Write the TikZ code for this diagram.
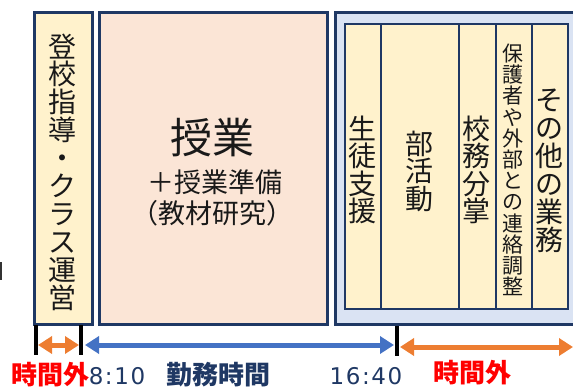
\documentclass[tikz,border=0pt]{standalone}
\usepackage{fontspec}
\setmainfont{Noto Sans CJK JP}
\newfontfamily\jph[RawFeature=+halt]{Noto Sans CJK JP}
\newfontfamily\numfont[LetterSpace=7]{DejaVu Sans}
\usetikzlibrary{arrows.meta}
\definecolor{navy}{HTML}{1F3864}
\definecolor{cream}{HTML}{FFF2CC}
\definecolor{peach}{HTML}{FBE5D6}
\definecolor{paleblue}{HTML}{DAE3F3}
\definecolor{arrblue}{HTML}{4472C4}
\definecolor{arrorange}{HTML}{ED7D31}
\definecolor{txtred}{HTML}{FF0000}
\tikzset{
  bigbox/.style={draw=navy, line width=2.5pt, inner sep=0pt, anchor=north west},
  innerbox/.style={draw=navy, line width=2pt, fill=cream, inner sep=0pt, anchor=north west, minimum height=285pt},
  vtext/.style={align=center, inner sep=0pt, text=black!90},
  tickbar/.style={fill=black, inner sep=0pt, minimum width=4pt, minimum height=30pt},
  bluearrow/.style={draw=arrblue, line width=5pt, {Triangle[length=14pt,width=17pt]}-{Triangle[length=14pt,width=17pt]}},
  orangearrow/.style={draw=arrorange, line width=5pt, {Triangle[length=14pt,width=17pt]}-{Triangle[length=14pt,width=17pt]}},
  redlabel/.style={text=txtred, font=\fontsize{26}{28}\selectfont\bfseries, inner sep=0pt, anchor=base},
  timelabel/.style={text=navy, font=\numfont\fontsize{23}{26}\selectfont, inner sep=0pt, anchor=base},
}
\begin{document}
\begin{tikzpicture}[x=1pt,y=-1pt]
\useasboundingbox (0,0) rectangle (573,388);
% small mark at left edge
\fill[black!80] (0,262) rectangle (2,280);
% main boxes
\node[bigbox, fill=cream, minimum width=58pt, minimum height=312pt] (b1) at (33,11) {};
\node[bigbox, fill=peach, minimum width=228pt, minimum height=312pt] (b2) at (98,11) {};
\node[bigbox, fill=paleblue, minimum width=260pt, minimum height=312pt] (b3) at (334,11) {};
% inner boxes
\node[innerbox, minimum width=36pt] (i1) at (344,23) {};
\node[innerbox, minimum width=78pt] (i2) at (380,23) {};
\node[innerbox, minimum width=37pt] (i3) at (458,23) {};
\node[innerbox, minimum width=36pt] (i4) at (495,23) {};
\node[innerbox, minimum width=36pt] (i5) at (531,23) {};
% texts
\node[vtext, font=\fontsize{28}{27.9}\selectfont] (t1) at (62,172) {登\\校\\指\\導\\・\\ク\\ラ\\ス\\運\\営};
\node[vtext, font=\fontsize{42}{44}\selectfont] (t2a) at (212,138) {授業};
\node[vtext, font=\fontsize{27}{30}\selectfont] (t2b) at (215,182) {＋授業準備};
\node[vtext, font=\jph\fontsize{27}{30}\selectfont] (t2c) at (212,213) {（教材研究）};
\node[vtext, font=\fontsize{28}{27.5}\selectfont] (t3) at (362,170) {生\\徒\\支\\援};
\node[vtext, font=\fontsize{28}{27.5}\selectfont] (t4) at (419,171) {部\\活\\動};
\node[vtext, font=\fontsize{28}{27.5}\selectfont] (t5) at (476,170) {校\\務\\分\\掌};
\node[vtext, font=\fontsize{21}{21.2}\selectfont] (t6) at (513,170) {保\\護\\者\\や\\外\\部\\と\\の\\連\\絡\\調\\整};
\node[vtext, font=\fontsize{28}{27.9}\selectfont] (t7) at (549,171) {そ\\の\\他\\の\\業\\務};
% ticks
\node[tickbar] (k1) at (36,340) {};
\node[tickbar] (k2) at (81,340) {};
\node[tickbar] (k3) at (397,341) {};
% arrow ends
\coordinate (o1a) at (38,345);
\coordinate (o1b) at (79,345);
\coordinate (ba) at (85,345);
\coordinate (bb) at (394,345);
\coordinate (o2a) at (400,347);
\coordinate (o2b) at (573,347);
\draw[orangearrow] (o1a) -- (o1b);
\draw[bluearrow] (ba) -- (bb);
\draw[orangearrow] (o2a) -- (o2b);
% bottom labels
\node[redlabel] (l1) at (50,384) {時間外};
\node[timelabel] (l2) at (117,384) {8:10};
\node[redlabel, text=navy] (l3) at (218,384) {勤務時間};
\node[timelabel] (l4) at (366,384) {16:40};
\node[redlabel] (l5) at (472,382) {時間外};
\end{tikzpicture}
\end{document}
